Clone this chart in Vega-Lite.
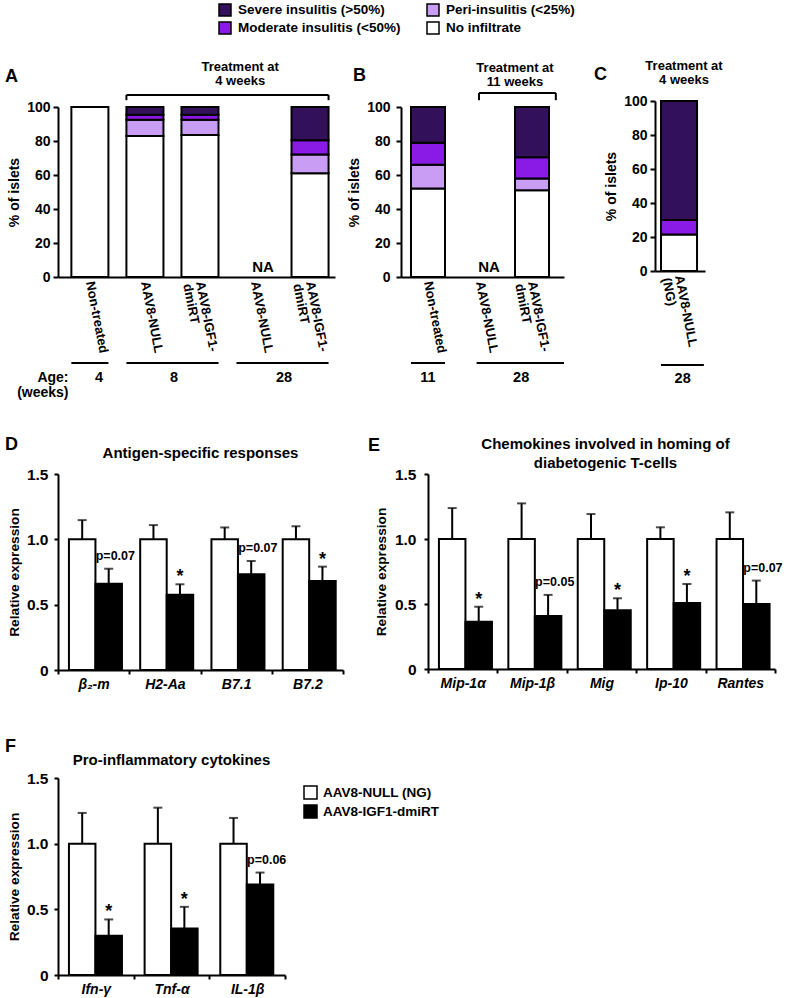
{
  "$schema": "https://vega.github.io/schema/vega-lite/v6.json",
  "background": "white",
  "padding": {"left": 5, "top": 3, "right": 5, "bottom": 3},
  "config": {
    "font": "Liberation Sans",
    "view": {"stroke": null},
    "axis": {"labelFont": "Liberation Sans", "titleFont": "Liberation Sans", "labelFontWeight": "bold", "titleFontWeight": "bold", "labelColor": "black", "titleColor": "black", "domainColor": "black", "tickColor": "black", "domainWidth": 2, "tickWidth": 2, "grid": false, "labelOverlap": false, "labelBound": false},
    "title": {"font": "Liberation Sans", "fontSize": 18, "fontWeight": "bold", "color": "black", "anchor": "start", "frame": "group", "baseline": "bottom"},
    "text": {"font": "Liberation Sans", "fontWeight": "bold", "color": "black"},
    "rule": {"color": "black", "strokeWidth": 2},
    "tick": {"color": "black"}
  },
  "spacing": 46,
  "vconcat": [
    {
      "spacing": 37,
      "vconcat": [
        {
          "spacing": 29,
          "hconcat": [
            {
              "spacing": 12,
              "hconcat": [
                {
                  "width": 277, "height": 170,
                  "title": {"text": "A", "dx": -53, "offset": -25},
                  "resolve": {"scale": {"y": "independent"}, "axis": {"y": "independent"}},
                  "layer": [
                    {
                      "data": {"values": [
                        {"group": "Non-treated", "level": "No infiltrate", "severity": 0, "pct": 100},
                        {"group": "AAV8-NULL@8", "level": "No infiltrate", "severity": 0, "pct": 83},
                        {"group": "AAV8-NULL@8", "level": "Peri-insulitis (<25%)", "severity": 1, "pct": 9.5},
                        {"group": "AAV8-NULL@8", "level": "Moderate insulitis (<50%)", "severity": 2, "pct": 3},
                        {"group": "AAV8-NULL@8", "level": "Severe insulitis (>50%)", "severity": 3, "pct": 4.5},
                        {"group": "AAV8-IGF1-|dmiRT@8", "level": "No infiltrate", "severity": 0, "pct": 83.5},
                        {"group": "AAV8-IGF1-|dmiRT@8", "level": "Peri-insulitis (<25%)", "severity": 1, "pct": 9},
                        {"group": "AAV8-IGF1-|dmiRT@8", "level": "Moderate insulitis (<50%)", "severity": 2, "pct": 3},
                        {"group": "AAV8-IGF1-|dmiRT@8", "level": "Severe insulitis (>50%)", "severity": 3, "pct": 4.5},
                        {"group": "AAV8-IGF1-|dmiRT@28", "level": "No infiltrate", "severity": 0, "pct": 61},
                        {"group": "AAV8-IGF1-|dmiRT@28", "level": "Peri-insulitis (<25%)", "severity": 1, "pct": 11},
                        {"group": "AAV8-IGF1-|dmiRT@28", "level": "Moderate insulitis (<50%)", "severity": 2, "pct": 8.5},
                        {"group": "AAV8-IGF1-|dmiRT@28", "level": "Severe insulitis (>50%)", "severity": 3, "pct": 19.5}
                      ]},
                      "mark": {"type": "bar", "stroke": "black", "strokeWidth": 2},
                      "encoding": {
                        "x": {"field": "group", "type": "nominal",
                          "scale": {"domain": ["Non-treated", "AAV8-NULL@8", "AAV8-IGF1-|dmiRT@8", "AAV8-NULL@28", "AAV8-IGF1-|dmiRT@28"], "paddingInner": 0.327, "paddingOuter": 0.18, "align": 0.675},
                          "axis": {"labelAngle": 79, "labelAlign": "left", "labelBaseline": "middle", "labelExpr": "split(split(datum.label, '@')[0], '|')", "ticks": false, "labelPadding": 4, "labelFontSize": 13, "labelLineHeight": 13, "labelOverlap": false,
                            "title": ["Age:", "(weeks)"], "titleX": 10, "titleY": 104, "titleAlign": "right", "titleBaseline": "alphabetic", "titleFontSize": 14, "titleLineHeight": 15}},
                        "y": {"field": "pct", "type": "quantitative", "stack": "zero",
                          "scale": {"domain": [0, 100], "nice": false},
                          "axis": {"values": [0, 20, 40, 60, 80, 100], "labelOverlap": false, "title": "% of islets", "tickSize": 5, "labelPadding": 3, "labelFontSize": 14, "titleFontSize": 14, "titlePadding": 5}},
                        "color": {"field": "level", "type": "nominal",
                          "scale": {"domain": ["Severe insulitis (>50%)", "Moderate insulitis (<50%)", "Peri-insulitis (<25%)", "No infiltrate"], "range": ["#33105a", "#8a1ae6", "#c99df4", "#ffffff"]},
                          "legend": {"orient": "none", "legendX": 160, "legendY": -104, "title": null, "columns": 2, "symbolType": "square", "symbolSize": 144, "symbolStrokeColor": "black", "symbolStrokeWidth": 1.5, "labelFont": "Liberation Sans", "labelFontSize": 13.5, "labelFontWeight": "bold", "labelColor": "black", "labelOffset": 6, "rowPadding": 0, "columnPadding": 23, "padding": 0, "labelLimit": 300}},
                        "order": {"field": "severity", "type": "quantitative"}
                      }
                    },
                    {
                      "layer": [
                        {
                          "data": {"values": [{"g": "AAV8-NULL@28", "t": "NA"}]},
                          "mark": {"type": "text", "fontSize": 15, "baseline": "alphabetic", "dx": 8},
                          "encoding": {"x": {"field": "g", "type": "nominal"}, "y": {"datum": 2.9, "scale": {"domain": [0, 100], "nice": false}, "axis": null}, "text": {"field": "t"}}
                        },
                        {
                          "data": {"values": [{"from": "AAV8-NULL@8", "to": "AAV8-IGF1-|dmiRT@28", "txt": "Treatment at|4 weeks"}]},
                          "layer": [
                            {"mark": "rule", "encoding": {"x": {"field": "from", "type": "nominal", "bandPosition": 0}, "x2": {"field": "to", "bandPosition": 1}, "y": {"datum": 107.1, "scale": {"domain": [0, 100], "nice": false}, "axis": null}}},
                            {"mark": "rule", "encoding": {"x": {"field": "from", "type": "nominal", "bandPosition": 0}, "y": {"datum": 107.1, "scale": {"domain": [0, 100], "nice": false}, "axis": null}, "y2": {"datum": 104}}},
                            {"mark": "rule", "encoding": {"x": {"field": "to", "type": "nominal", "bandPosition": 1}, "y": {"datum": 107.1, "scale": {"domain": [0, 100], "nice": false}, "axis": null}, "y2": {"datum": 104}}},
                            {"mark": {"type": "text", "lineBreak": "|", "fontSize": 13, "baseline": "alphabetic", "lineHeight": 14},
                              "encoding": {"x": {"datum": "AAV8-NULL@28", "type": "nominal", "bandPosition": 0.1}, "y": {"datum": 121, "scale": {"domain": [0, 100], "nice": false}, "axis": null}, "text": {"field": "txt"}}}
                          ]
                        },
                        {
                          "data": {"values": [
                            {"from": "Non-treated", "to": "Non-treated"},
                            {"from": "AAV8-NULL@8", "to": "AAV8-IGF1-|dmiRT@8"},
                            {"from": "AAV8-NULL@28", "to": "AAV8-IGF1-|dmiRT@28"}
                          ]},
                          "mark": "rule",
                          "encoding": {"x": {"field": "from", "type": "nominal", "bandPosition": 0}, "x2": {"field": "to", "bandPosition": 1}, "y": {"datum": -50.6, "scale": {"domain": [0, 100], "nice": false}, "axis": null}}
                        },
                        {
                          "data": {"values": [{"at": "Non-treated", "age": "4"}]},
                          "mark": {"type": "text", "fontSize": 14.5, "baseline": "alphabetic"},
                          "encoding": {"x": {"field": "at", "type": "nominal", "bandPosition": 0.75}, "y": {"datum": -61.8, "scale": {"domain": [0, 100], "nice": false}, "axis": null}, "text": {"field": "age"}}
                        },
                        {
                          "data": {"values": [{"at": "AAV8-IGF1-|dmiRT@8", "age": "8"}, {"at": "AAV8-IGF1-|dmiRT@28", "age": "28"}]},
                          "mark": {"type": "text", "fontSize": 14.5, "baseline": "alphabetic"},
                          "encoding": {"x": {"field": "at", "type": "nominal", "bandPosition": -0.2}, "y": {"datum": -61.8, "scale": {"domain": [0, 100], "nice": false}, "axis": null}, "text": {"field": "age"}}
                        }
                      ]
                    }
                  ]
                },
                {
                  "width": 163, "height": 170,
                  "title": {"text": "B", "dx": -48, "offset": -23},
                  "resolve": {"scale": {"y": "independent"}, "axis": {"y": "independent"}},
                  "layer": [
                    {
                      "data": {"values": [
                        {"group": "Non-treated@11", "level": "No infiltrate", "severity": 0, "pct": 52},
                        {"group": "Non-treated@11", "level": "Peri-insulitis (<25%)", "severity": 1, "pct": 14},
                        {"group": "Non-treated@11", "level": "Moderate insulitis (<50%)", "severity": 2, "pct": 13},
                        {"group": "Non-treated@11", "level": "Severe insulitis (>50%)", "severity": 3, "pct": 21},
                        {"group": "AAV8-IGF1-|dmiRT@28", "level": "No infiltrate", "severity": 0, "pct": 51},
                        {"group": "AAV8-IGF1-|dmiRT@28", "level": "Peri-insulitis (<25%)", "severity": 1, "pct": 7},
                        {"group": "AAV8-IGF1-|dmiRT@28", "level": "Moderate insulitis (<50%)", "severity": 2, "pct": 12.5},
                        {"group": "AAV8-IGF1-|dmiRT@28", "level": "Severe insulitis (>50%)", "severity": 3, "pct": 29.5}
                      ]},
                      "mark": {"type": "bar", "stroke": "black", "strokeWidth": 2},
                      "encoding": {
                        "x": {"field": "group", "type": "nominal",
                          "scale": {"domain": ["Non-treated@11", "AAV8-NULL@28", "AAV8-IGF1-|dmiRT@28"], "paddingInner": 0.346, "paddingOuter": 0.24, "align": 0.4},
                          "axis": {"labelAngle": 79, "labelAlign": "left", "labelBaseline": "middle", "labelExpr": "split(split(datum.label, '@')[0], '|')", "ticks": false, "labelPadding": 4, "labelFontSize": 13, "labelLineHeight": 13, "labelOverlap": false, "title": null}},
                        "y": {"field": "pct", "type": "quantitative", "stack": "zero",
                          "scale": {"domain": [0, 100], "nice": false},
                          "axis": {"values": [0, 20, 40, 60, 80, 100], "labelOverlap": false, "title": "% of islets", "tickSize": 5, "labelPadding": 6, "labelFontSize": 14, "titleFontSize": 14, "titlePadding": 5}},
                        "color": {"field": "level", "type": "nominal",
                          "scale": {"domain": ["Severe insulitis (>50%)", "Moderate insulitis (<50%)", "Peri-insulitis (<25%)", "No infiltrate"], "range": ["#33105a", "#8a1ae6", "#c99df4", "#ffffff"]},
                          "legend": {"orient": "none", "legendX": 160, "legendY": -104, "title": null, "columns": 2, "symbolType": "square", "symbolSize": 144, "symbolStrokeColor": "black", "symbolStrokeWidth": 1.5, "labelFont": "Liberation Sans", "labelFontSize": 13.5, "labelFontWeight": "bold", "labelColor": "black", "labelOffset": 6, "rowPadding": 0, "columnPadding": 23, "padding": 0, "labelLimit": 300}},
                        "order": {"field": "severity", "type": "quantitative"}
                      }
                    },
                    {
                      "layer": [
                        {
                          "data": {"values": [{"g": "AAV8-NULL@28", "t": "NA"}]},
                          "mark": {"type": "text", "fontSize": 15, "baseline": "alphabetic", "dx": 9},
                          "encoding": {"x": {"field": "g", "type": "nominal"}, "y": {"datum": 2.9, "scale": {"domain": [0, 100], "nice": false}, "axis": null}, "text": {"field": "t"}}
                        },
                        {
                          "data": {"values": [{"from": "AAV8-NULL@28", "to": "AAV8-IGF1-|dmiRT@28", "txt": "Treatment at|11 weeks"}]},
                          "layer": [
                            {"mark": "rule", "encoding": {"x": {"field": "from", "type": "nominal", "bandPosition": 0.47}, "x2": {"field": "to", "bandPosition": 1.2}, "y": {"datum": 108.2, "scale": {"domain": [0, 100], "nice": false}, "axis": null}}},
                            {"mark": "rule", "encoding": {"x": {"field": "from", "type": "nominal", "bandPosition": 0.47}, "y": {"datum": 108.2, "scale": {"domain": [0, 100], "nice": false}, "axis": null}, "y2": {"datum": 104}}},
                            {"mark": "rule", "encoding": {"x": {"field": "to", "type": "nominal", "bandPosition": 1.2}, "y": {"datum": 108.2, "scale": {"domain": [0, 100], "nice": false}, "axis": null}, "y2": {"datum": 104}}},
                            {"mark": {"type": "text", "lineBreak": "|", "fontSize": 13, "baseline": "alphabetic", "lineHeight": 14},
                              "encoding": {"x": {"field": "to", "type": "nominal", "bandPosition": 0}, "y": {"datum": 120.6, "scale": {"domain": [0, 100], "nice": false}, "axis": null}, "text": {"field": "txt"}}}
                          ]
                        },
                        {
                          "data": {"values": [{"from": "Non-treated@11", "to": "Non-treated@11", "age": "11"}]},
                          "layer": [
                            {"mark": "rule", "encoding": {"x": {"field": "from", "type": "nominal", "bandPosition": 0}, "x2": {"field": "to", "bandPosition": 1}, "y": {"datum": -50.6, "scale": {"domain": [0, 100], "nice": false}, "axis": null}}},
                            {"mark": {"type": "text", "fontSize": 14.5, "baseline": "alphabetic"}, "encoding": {"x": {"field": "from", "type": "nominal", "bandPosition": 0.5}, "y": {"datum": -61.8, "scale": {"domain": [0, 100], "nice": false}, "axis": null}, "text": {"field": "age"}}}
                          ]
                        },
                        {
                          "data": {"values": [{"from": "AAV8-NULL@28", "to": "AAV8-IGF1-|dmiRT@28", "age": "28"}]},
                          "layer": [
                            {"mark": "rule", "encoding": {"x": {"field": "from", "type": "nominal", "bandPosition": 0.4}, "x2": {"field": "to", "bandPosition": 1.44}, "y": {"datum": -50.6, "scale": {"domain": [0, 100], "nice": false}, "axis": null}}},
                            {"mark": {"type": "text", "fontSize": 14.5, "baseline": "alphabetic"}, "encoding": {"x": {"field": "to", "type": "nominal", "bandPosition": 0.18}, "y": {"datum": -61.8, "scale": {"domain": [0, 100], "nice": false}, "axis": null}, "text": {"field": "age"}}}
                          ]
                        }
                      ]
                    }
                  ]
                }
              ]
            },
            {
              "width": 50, "height": 164,
              "title": {"text": "C", "dx": -61, "offset": -24},
              "resolve": {"scale": {"y": "independent"}, "axis": {"y": "independent"}},
              "layer": [
                {
                  "data": {"values": [
                    {"group": "AAV8-NULL|(NG)", "level": "No infiltrate", "severity": 0, "pct": 21.5},
                    {"group": "AAV8-NULL|(NG)", "level": "Moderate insulitis (<50%)", "severity": 2, "pct": 8.5},
                    {"group": "AAV8-NULL|(NG)", "level": "Severe insulitis (>50%)", "severity": 3, "pct": 70}
                  ]},
                  "mark": {"type": "bar", "stroke": "black", "strokeWidth": 2},
                  "encoding": {
                    "x": {"field": "group", "type": "nominal",
                      "scale": {"domain": ["AAV8-NULL|(NG)"], "paddingInner": 0, "paddingOuter": 0.194, "align": 0.43},
                      "axis": {"labelAngle": 79, "labelAlign": "left", "labelBaseline": "middle", "labelExpr": "split(datum.label, '|')", "ticks": false, "labelPadding": 4, "labelFontSize": 13, "labelLineHeight": 13, "labelOverlap": false, "title": null}},
                    "y": {"field": "pct", "type": "quantitative", "stack": "zero",
                      "scale": {"domain": [0, 100], "nice": false, "range": [164, -6]},
                      "axis": {"values": [0, 20, 40, 60, 80, 100], "labelOverlap": false, "title": "% of islets", "tickSize": 5, "labelPadding": 3, "labelFontSize": 14, "titleFontSize": 14, "titlePadding": 5}},
                    "color": {"field": "level", "type": "nominal",
                      "scale": {"domain": ["Severe insulitis (>50%)", "Moderate insulitis (<50%)", "Peri-insulitis (<25%)", "No infiltrate"], "range": ["#33105a", "#8a1ae6", "#c99df4", "#ffffff"]},
                      "legend": {"orient": "none", "legendX": 160, "legendY": -104, "title": null, "columns": 2, "symbolType": "square", "symbolSize": 144, "symbolStrokeColor": "black", "symbolStrokeWidth": 1.5, "labelFont": "Liberation Sans", "labelFontSize": 13.5, "labelFontWeight": "bold", "labelColor": "black", "labelOffset": 6, "rowPadding": 0, "columnPadding": 23, "padding": 0, "labelLimit": 300}},
                    "order": {"field": "severity", "type": "quantitative"}
                  }
                },
                {
                  "data": {"values": [{"g": "AAV8-NULL|(NG)", "txt": "Treatment at|4 weeks", "age": "28"}]},
                  "layer": [
                    {"mark": {"type": "text", "lineBreak": "|", "fontSize": 13, "baseline": "alphabetic", "lineHeight": 14, "dx": 5},
                      "encoding": {"x": {"field": "g", "type": "nominal"}, "y": {"datum": 118.2, "scale": {"domain": [0, 100], "nice": false, "range": [164, -6]}, "axis": null}, "text": {"field": "txt"}}},
                    {"mark": "rule", "encoding": {"x": {"field": "g", "type": "nominal", "bandPosition": 0}, "x2": {"field": "g", "bandPosition": 1.19}, "y": {"datum": -55.3, "scale": {"domain": [0, 100], "nice": false, "range": [164, -6]}, "axis": null}}},
                    {"mark": {"type": "text", "fontSize": 14.5, "baseline": "alphabetic"}, "encoding": {"x": {"field": "g", "type": "nominal", "bandPosition": 0.6}, "y": {"datum": -65.9, "scale": {"domain": [0, 100], "nice": false, "range": [164, -6]}, "axis": null}, "text": {"field": "age"}}}
                  ]
                }
              ]
            }
          ]
        },
        {
          "spacing": 24,
          "hconcat": [
            {
              "width": 285, "height": 196,
              "title": {"text": "D", "dx": -53, "offset": -8},
              "data": {"values": [
                {"gene": "β₂-m", "treatment": "AAV8-NULL (NG)", "mean": 1.0, "upper": 1.147, "sig": ""},
                {"gene": "β₂-m", "treatment": "AAV8-IGF1-dmiRT", "mean": 0.661, "upper": 0.775, "sig": "p=0.07"},
                {"gene": "H2-Aa", "treatment": "AAV8-NULL (NG)", "mean": 1.0, "upper": 1.109, "sig": ""},
                {"gene": "H2-Aa", "treatment": "AAV8-IGF1-dmiRT", "mean": 0.575, "upper": 0.656, "sig": "*"},
                {"gene": "B7.1", "treatment": "AAV8-NULL (NG)", "mean": 1.0, "upper": 1.091, "sig": ""},
                {"gene": "B7.1", "treatment": "AAV8-IGF1-dmiRT", "mean": 0.732, "upper": 0.834, "sig": "p=0.07"},
                {"gene": "B7.2", "treatment": "AAV8-NULL (NG)", "mean": 1.0, "upper": 1.10, "sig": ""},
                {"gene": "B7.2", "treatment": "AAV8-IGF1-dmiRT", "mean": 0.681, "upper": 0.791, "sig": "*"}
              ]},
              "layer": [
                {
                  "mark": {"type": "bar", "stroke": "black", "strokeWidth": 2},
                  "encoding": {
                    "x": {"field": "gene", "type": "nominal", "scale": {"domain": ["β₂-m", "H2-Aa", "B7.1", "B7.2"], "paddingInner": 0, "paddingOuter": 0},
                      "axis": {"title": null, "labelAngle": 0, "labelFontSize": 14, "labelFontStyle": "italic", "tickBand": "extent", "tickSize": 4, "labelPadding": 3, "labelOverlap": false}},
                    "xOffset": {"field": "treatment", "type": "nominal", "scale": {"domain": ["AAV8-NULL (NG)", "AAV8-IGF1-dmiRT"], "paddingInner": 0, "paddingOuter": 0.344, "align": 0.6}},
                    "y": {"field": "mean", "type": "quantitative", "scale": {"domain": [0, 1.5], "nice": false},
                      "axis": {"values": [0, 0.5, 1, 1.5], "labelOverlap": false, "labelExpr": "datum.value == 0 ? '0' : format(datum.value, '.1f')", "title": "Relative expression", "tickSize": 4, "labelPadding": 6, "labelFontSize": 15.5, "titleFontSize": 13.7, "titlePadding": 5}},
                    "fill": {"field": "treatment", "type": "nominal", "scale": {"domain": ["AAV8-NULL (NG)", "AAV8-IGF1-dmiRT"], "range": ["#ffffff", "#000000"]},
                      "legend": {"orient": "none", "legendX": 245, "legendY": 678, "title": null, "symbolType": "square", "symbolSize": 169, "symbolStrokeColor": "black", "symbolStrokeWidth": 1.5, "labelFont": "Liberation Sans", "labelFontSize": 13.5, "labelFontWeight": "bold", "labelColor": "black", "labelOffset": 5, "rowPadding": 0, "padding": 0, "labelLimit": 300}}
                  }
                },
                {"mark": "rule", "encoding": {"x": {"field": "gene", "type": "nominal"}, "xOffset": {"field": "treatment", "type": "nominal"}, "y": {"field": "mean", "type": "quantitative"}, "y2": {"field": "upper"}}},
                {"mark": {"type": "tick", "thickness": 2, "size": 9}, "encoding": {"x": {"field": "gene", "type": "nominal"}, "xOffset": {"field": "treatment", "type": "nominal"}, "y": {"field": "upper", "type": "quantitative"}}},
                {"transform": [{"filter": "datum.sig == '*'"}], "mark": {"type": "text", "fontSize": 18, "baseline": "alphabetic", "dy": -2},
                  "encoding": {"x": {"field": "gene", "type": "nominal"}, "xOffset": {"field": "treatment", "type": "nominal"}, "y": {"field": "upper", "type": "quantitative"}, "text": {"field": "sig"}}},
                {"transform": [{"filter": "indexof(datum.sig, 'p=') == 0"}], "mark": {"type": "text", "fontSize": 12.5, "baseline": "alphabetic", "align": "left", "dx": -13, "dy": -9},
                  "encoding": {"x": {"field": "gene", "type": "nominal"}, "xOffset": {"field": "treatment", "type": "nominal"}, "y": {"field": "upper", "type": "quantitative"}, "text": {"field": "sig"}}},
                {"data": {"values": [{"h": "Antigen-specific responses"}]}, "mark": {"type": "text", "fontSize": 15, "baseline": "alphabetic"},
                  "encoding": {"x": {"datum": "B7.1", "type": "nominal", "bandPosition": 0}, "y": {"datum": 1.622}, "text": {"field": "h"}}}
              ]
            },
            {
              "width": 347, "height": 195,
              "title": {"text": "E", "dx": -60, "offset": -18},
              "data": {"values": [
                {"gene": "Mip-1α", "treatment": "AAV8-NULL (NG)", "mean": 1.0, "upper": 1.238, "sig": ""},
                {"gene": "Mip-1α", "treatment": "AAV8-IGF1-dmiRT", "mean": 0.364, "upper": 0.479, "sig": "*"},
                {"gene": "Mip-1β", "treatment": "AAV8-NULL (NG)", "mean": 1.0, "upper": 1.274, "sig": ""},
                {"gene": "Mip-1β", "treatment": "AAV8-IGF1-dmiRT", "mean": 0.408, "upper": 0.57, "sig": "p=0.05"},
                {"gene": "Mig", "treatment": "AAV8-NULL (NG)", "mean": 1.0, "upper": 1.192, "sig": ""},
                {"gene": "Mig", "treatment": "AAV8-IGF1-dmiRT", "mean": 0.451, "upper": 0.544, "sig": "*"},
                {"gene": "Ip-10", "treatment": "AAV8-NULL (NG)", "mean": 1.0, "upper": 1.09, "sig": ""},
                {"gene": "Ip-10", "treatment": "AAV8-IGF1-dmiRT", "mean": 0.508, "upper": 0.654, "sig": "*"},
                {"gene": "Rantes", "treatment": "AAV8-NULL (NG)", "mean": 1.0, "upper": 1.205, "sig": ""},
                {"gene": "Rantes", "treatment": "AAV8-IGF1-dmiRT", "mean": 0.5, "upper": 0.68, "sig": "p=0.07"}
              ]},
              "layer": [
                {
                  "mark": {"type": "bar", "stroke": "black", "strokeWidth": 2},
                  "encoding": {
                    "x": {"field": "gene", "type": "nominal", "scale": {"domain": ["Mip-1α", "Mip-1β", "Mig", "Ip-10", "Rantes"], "paddingInner": 0, "paddingOuter": 0},
                      "axis": {"title": null, "labelAngle": 0, "labelFontSize": 14, "labelFontStyle": "italic", "tickBand": "extent", "tickSize": 4, "labelPadding": 3, "labelOverlap": false}},
                    "xOffset": {"field": "treatment", "type": "nominal", "scale": {"domain": ["AAV8-NULL (NG)", "AAV8-IGF1-dmiRT"], "paddingInner": 0, "paddingOuter": 0.31, "align": 0.55}},
                    "y": {"field": "mean", "type": "quantitative", "scale": {"domain": [0, 1.5], "nice": false},
                      "axis": {"values": [0, 0.5, 1, 1.5], "labelOverlap": false, "labelExpr": "datum.value == 0 ? '0' : format(datum.value, '.1f')", "title": "Relative expression", "tickSize": 4, "labelPadding": 8, "labelFontSize": 15.5, "titleFontSize": 13.7, "titlePadding": 6}},
                    "fill": {"field": "treatment", "type": "nominal", "scale": {"domain": ["AAV8-NULL (NG)", "AAV8-IGF1-dmiRT"], "range": ["#ffffff", "#000000"]},
                      "legend": {"orient": "none", "legendX": 245, "legendY": 678, "title": null, "symbolType": "square", "symbolSize": 169, "symbolStrokeColor": "black", "symbolStrokeWidth": 1.5, "labelFont": "Liberation Sans", "labelFontSize": 13.5, "labelFontWeight": "bold", "labelColor": "black", "labelOffset": 5, "rowPadding": 0, "padding": 0, "labelLimit": 300}}
                  }
                },
                {"mark": "rule", "encoding": {"x": {"field": "gene", "type": "nominal"}, "xOffset": {"field": "treatment", "type": "nominal"}, "y": {"field": "mean", "type": "quantitative"}, "y2": {"field": "upper"}}},
                {"mark": {"type": "tick", "thickness": 2, "size": 9}, "encoding": {"x": {"field": "gene", "type": "nominal"}, "xOffset": {"field": "treatment", "type": "nominal"}, "y": {"field": "upper", "type": "quantitative"}}},
                {"transform": [{"filter": "datum.sig == '*'"}], "mark": {"type": "text", "fontSize": 18, "baseline": "alphabetic", "dy": -2},
                  "encoding": {"x": {"field": "gene", "type": "nominal"}, "xOffset": {"field": "treatment", "type": "nominal"}, "y": {"field": "upper", "type": "quantitative"}, "text": {"field": "sig"}}},
                {"transform": [{"filter": "indexof(datum.sig, 'p=') == 0"}], "mark": {"type": "text", "fontSize": 12.5, "baseline": "alphabetic", "align": "left", "dx": -13, "dy": -9},
                  "encoding": {"x": {"field": "gene", "type": "nominal"}, "xOffset": {"field": "treatment", "type": "nominal"}, "y": {"field": "upper", "type": "quantitative"}, "text": {"field": "sig"}}},
                {"data": {"values": [{"h": "Chemokines involved in homing of|diabetogenic T-cells"}]}, "mark": {"type": "text", "fontSize": 15, "baseline": "alphabetic", "lineBreak": "|", "lineHeight": 19, "dx": 4},
                  "encoding": {"x": {"datum": "Mig", "type": "nominal"}, "y": {"datum": 1.692}, "text": {"field": "h"}}}
              ]
            }
          ]
        }
      ]
    },
    {
      "width": 227, "height": 197,
      "title": {"text": "F", "dx": -53, "offset": -3},
      "data": {"values": [
        {"gene": "Ifn-γ", "treatment": "AAV8-NULL (NG)", "mean": 1.0, "upper": 1.234, "sig": ""},
        {"gene": "Ifn-γ", "treatment": "AAV8-IGF1-dmiRT", "mean": 0.299, "upper": 0.423, "sig": "*"},
        {"gene": "Tnf-α", "treatment": "AAV8-NULL (NG)", "mean": 1.0, "upper": 1.274, "sig": ""},
        {"gene": "Tnf-α", "treatment": "AAV8-IGF1-dmiRT", "mean": 0.355, "upper": 0.519, "sig": "*"},
        {"gene": "IL-1β", "treatment": "AAV8-NULL (NG)", "mean": 1.0, "upper": 1.196, "sig": ""},
        {"gene": "IL-1β", "treatment": "AAV8-IGF1-dmiRT", "mean": 0.689, "upper": 0.78, "sig": "p=0.06"}
      ]},
      "layer": [
        {
          "mark": {"type": "bar", "stroke": "black", "strokeWidth": 2},
          "encoding": {
            "x": {"field": "gene", "type": "nominal", "scale": {"domain": ["Ifn-γ", "Tnf-α", "IL-1β"], "paddingInner": 0, "paddingOuter": 0},
              "axis": {"title": null, "labelAngle": 0, "labelFontSize": 14, "labelFontStyle": "italic", "tickBand": "extent", "tickSize": 4, "labelPadding": 3, "labelOverlap": false}},
            "xOffset": {"field": "treatment", "type": "nominal", "scale": {"domain": ["AAV8-NULL (NG)", "AAV8-IGF1-dmiRT"], "paddingInner": 0, "paddingOuter": 0.44, "align": 0.48}},
            "y": {"field": "mean", "type": "quantitative", "scale": {"domain": [0, 1.5], "nice": false},
              "axis": {"values": [0, 0.5, 1, 1.5], "labelOverlap": false, "labelExpr": "datum.value == 0 ? '0' : format(datum.value, '.1f')", "title": "Relative expression", "tickSize": 4, "labelPadding": 6, "labelFontSize": 15.5, "titleFontSize": 13.7, "titlePadding": 5}},
            "fill": {"field": "treatment", "type": "nominal", "scale": {"domain": ["AAV8-NULL (NG)", "AAV8-IGF1-dmiRT"], "range": ["#ffffff", "#000000"]},
              "legend": {"orient": "none", "legendX": 245, "legendY": 678, "title": null, "symbolType": "square", "symbolSize": 169, "symbolStrokeColor": "black", "symbolStrokeWidth": 1.5, "labelFont": "Liberation Sans", "labelFontSize": 13.5, "labelFontWeight": "bold", "labelColor": "black", "labelOffset": 5, "rowPadding": 0, "padding": 0, "labelLimit": 300}}
          }
        },
        {"mark": "rule", "encoding": {"x": {"field": "gene", "type": "nominal"}, "xOffset": {"field": "treatment", "type": "nominal"}, "y": {"field": "mean", "type": "quantitative"}, "y2": {"field": "upper"}}},
        {"mark": {"type": "tick", "thickness": 2, "size": 9}, "encoding": {"x": {"field": "gene", "type": "nominal"}, "xOffset": {"field": "treatment", "type": "nominal"}, "y": {"field": "upper", "type": "quantitative"}}},
        {"transform": [{"filter": "datum.sig == '*'"}], "mark": {"type": "text", "fontSize": 18, "baseline": "alphabetic", "dy": -2},
          "encoding": {"x": {"field": "gene", "type": "nominal"}, "xOffset": {"field": "treatment", "type": "nominal"}, "y": {"field": "upper", "type": "quantitative"}, "text": {"field": "sig"}}},
        {"transform": [{"filter": "indexof(datum.sig, 'p=') == 0"}], "mark": {"type": "text", "fontSize": 12.5, "baseline": "alphabetic", "align": "left", "dx": -13, "dy": -9},
          "encoding": {"x": {"field": "gene", "type": "nominal"}, "xOffset": {"field": "treatment", "type": "nominal"}, "y": {"field": "upper", "type": "quantitative"}, "text": {"field": "sig"}}},
        {"data": {"values": [{"h": "Pro-inflammatory cytokines"}]}, "mark": {"type": "text", "fontSize": 15, "baseline": "alphabetic"},
          "encoding": {"x": {"datum": "Tnf-α", "type": "nominal"}, "y": {"datum": 1.6}, "text": {"field": "h"}}}
      ]
    }
  ]
}
